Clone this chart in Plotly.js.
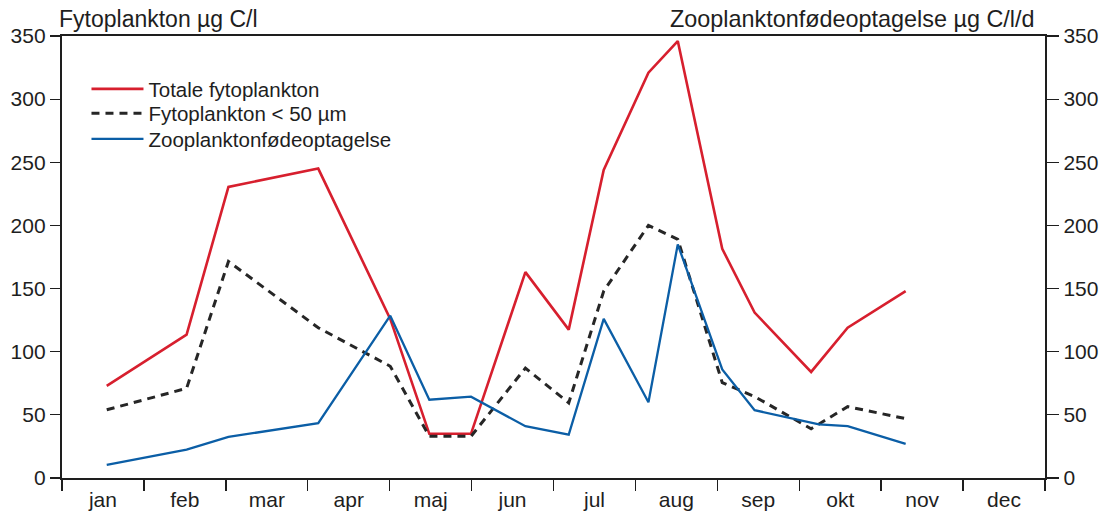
<!DOCTYPE html>
<html>
<head>
<meta charset="utf-8">
<script src="https://cdn.plot.ly/plotly-3.0.1.min.js"></script>
<style>
  html, body { margin: 0; padding: 0; background: #fff; }
  #chart { width: 1103px; height: 516px; }
</style>
</head>
<body>
<div id="chart"></div>
<script>
// Month labels, centred in each month interval (x = months since 1 Jan)
const months = ["jan", "feb", "mar", "apr", "maj", "jun", "jul", "aug", "sep", "okt", "nov", "dec"];

// Sampling dates as fractional months
const datesPhyto = [0.546, 1.521, 2.032, 3.128, 4.007, 4.484, 4.993, 5.657, 6.186, 6.613, 7.159, 7.517, 8.060, 8.455, 9.145, 9.591, 10.299];
const datesZoo   = [0.546, 1.521, 2.032, 3.128, 4.007, 4.484, 4.993, 5.657, 6.186, 6.613, 7.159, 7.517, 8.060, 8.455, 9.240, 9.591, 10.299];

// Total phytoplankton, µg C/l
const totalPhyto = [73, 113.5, 230.5, 245, 126, 35, 35, 163, 117.5, 244, 321, 346, 181.5, 131, 84, 119, 148];
// Phytoplankton < 50 µm, µg C/l
const smallPhyto = [54, 71, 171.5, 119, 88.5, 33, 33, 87, 59.5, 148, 200, 189, 75.5, 64.5, 39, 56.5, 47];
// Zooplankton grazing, µg C/l/d
const zooGrazing = [10.3, 22.5, 32.5, 43.5, 128.5, 62, 64.4, 41, 34.4, 126, 60, 185, 86, 53.7, 42.4, 41, 27];

const yTicks = [0, 50, 100, 150, 200, 250, 300, 350];
const boundaries = months.map((m, i) => i).concat([months.length]);
const centres = months.map((m, i) => i + 0.5);

const FONT = "Liberation Sans, Arial, Helvetica, sans-serif";
const INK = "#1e1e1e";

const traces = [
  {
    x: datesPhyto, y: totalPhyto, name: "Totale fytoplankton",
    type: "scatter", mode: "lines",
    line: { color: "#d71f2e", width: 2.6 },
    xaxis: "x", yaxis: "y", legend: "legend"
  },
  {
    x: datesPhyto, y: smallPhyto, name: "Fytoplankton < 50 µm",
    type: "scatter", mode: "lines",
    line: { color: "#262626", width: 3, dash: "8px,6px" },
    xaxis: "x", yaxis: "y", legend: "legend2"
  },
  {
    x: datesZoo, y: zooGrazing, name: "Zooplanktonfødeoptagelse",
    type: "scatter", mode: "lines",
    line: { color: "#0b5ea6", width: 2.3 },
    xaxis: "x2", yaxis: "y2", legend: "legend3"
  }
];

// One legend box per entry so the rows can sit tightly spaced
function legendAt(yPos) {
  return {
    x: 0.0249, y: yPos, xanchor: "left", yanchor: "top",
    bgcolor: "rgba(0,0,0,0)", borderwidth: 0,
    font: { family: FONT, size: 20.5, color: INK },
    itemwidth: 52
  };
}

const layout = {
  width: 1103, height: 516,
  margin: { l: 62, r: 58, t: 36, b: 38 },
  paper_bgcolor: "#ffffff", plot_bgcolor: "#ffffff",
  font: { family: FONT, size: 20, color: INK },
  showlegend: true,
  legend: legendAt(0.9253),
  legend2: legendAt(0.8699),
  legend3: legendAt(0.8122),
  xaxis: {
    range: [0, 12], fixedrange: true,
    tickmode: "array", tickvals: boundaries, ticktext: boundaries.map(() => ""),
    ticks: "outside", ticklen: 11, tickwidth: 1.4, tickcolor: INK,
    showline: true, linecolor: INK, linewidth: 2.4, mirror: true,
    showgrid: false, zeroline: false
  },
  xaxis2: {
    range: [0, 12], fixedrange: true, overlaying: "x", anchor: "y2", side: "bottom",
    tickmode: "array", tickvals: centres, ticktext: months,
    ticks: "", ticklabelstandoff: 7,
    tickfont: { family: FONT, size: 21, color: INK },
    showline: false, showgrid: false, zeroline: false
  },
  yaxis: {
    range: [0, 350], fixedrange: true,
    tickmode: "array", tickvals: yTicks, ticktext: yTicks.map(String),
    ticks: "outside", ticklen: 10, tickwidth: 1.2, tickcolor: INK,
    tickfont: { family: FONT, size: 21, color: INK },
    showline: true, linecolor: INK, linewidth: 2.2,
    showgrid: false, zeroline: false
  },
  yaxis2: {
    range: [0, 350], fixedrange: true, overlaying: "y", anchor: "x2", side: "right",
    tickmode: "array", tickvals: yTicks, ticktext: yTicks.map(String),
    ticks: "outside", ticklen: 12, tickwidth: 1.2, tickcolor: INK,
    tickfont: { family: FONT, size: 21, color: INK },
    showline: true, linecolor: INK, linewidth: 2.2,
    showgrid: false, zeroline: false
  },
  annotations: [
    {
      text: "Fytoplankton µg C/l", xref: "paper", yref: "paper",
      x: 0, y: 1, xanchor: "left", yanchor: "bottom", xshift: -5, yshift: 2,
      showarrow: false, font: { family: FONT, size: 23, color: INK }
    },
    {
      text: "Zooplanktonfødeoptagelse µg C/l/d", xref: "paper", yref: "paper",
      x: 1, y: 1, xanchor: "right", yanchor: "bottom", xshift: -8, yshift: 2,
      showarrow: false, font: { family: FONT, size: 23.4, color: INK }
    }
  ]
};

Plotly.newPlot("chart", traces, layout, { staticPlot: true, displayModeBar: false });
</script>
</body>
</html>
